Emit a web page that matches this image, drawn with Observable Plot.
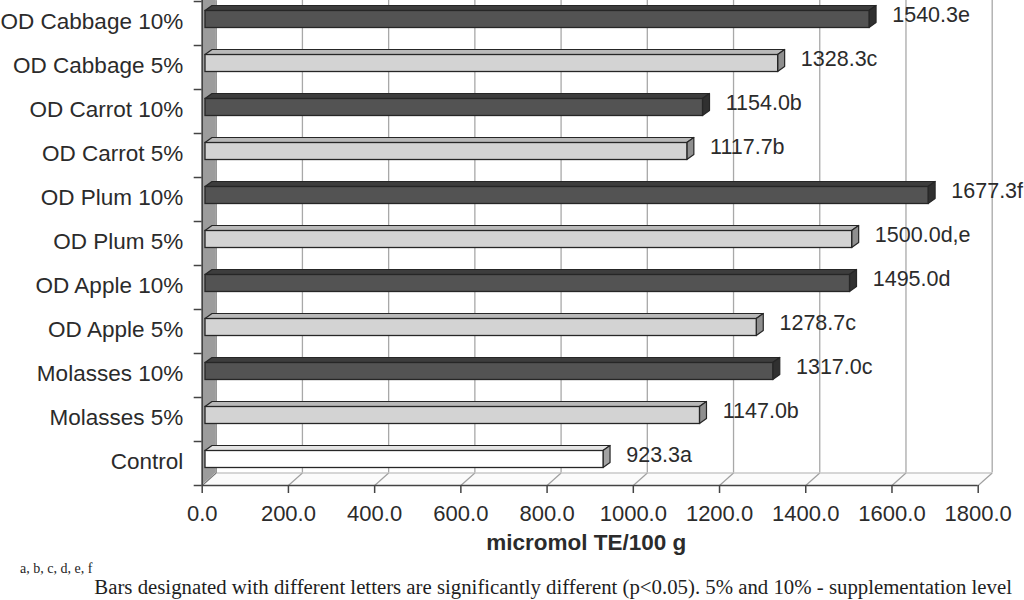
<!DOCTYPE html>
<html><head><meta charset="utf-8">
<script src="https://cdn.jsdelivr.net/npm/d3@7"></script>
<script src="https://cdn.jsdelivr.net/npm/@observablehq/plot@0.6"></script>
<style>
html,body{margin:0;padding:0;overflow:hidden;background:#fff;width:1024px;height:600px;}
#chart{position:absolute;left:0;top:0;}
.note{position:absolute;left:20px;font-family:"Liberation Serif","Times New Roman",serif;font-size:20.8px;line-height:24px;color:#1e1e1e;white-space:nowrap;}
</style></head><body>
<div id="chart"></div>
<div class="note" style="top:575px"><span style="font-size:14px;position:relative;top:-21px;margin-right:2px">a, b, c, d, e, f</span>Bars designated with different letters are significantly different (p&lt;0.05). 5% and 10% - supplementation level</div>
<div class="note" style="top:599px">at 5 g/100 g flour and 10 g/100 g flour, respectively.</div>
<script>
const categories = ["Control","Molasses 5%","Molasses 10%","OD Apple 5%","OD Apple 10%","OD Plum 5%","OD Plum 10%","OD Carrot 5%","OD Carrot 10%","OD Cabbage 5%","OD Cabbage 10%"];
const values = [923.3,1147.0,1317.0,1278.7,1495.0,1500.0,1677.3,1117.7,1154.0,1328.3,1540.3];
const letters = ["a","b","c","c","d","d,e","f","b","b","c","e"];
const levels = ["control","5%","10%","5%","10%","5%","10%","5%","10%","5%","10%"];
const xTicks = [0,200,400,600,800,1000,1200,1400,1600,1800];

// geometry helpers (pixel -> data units)
const UX = 1800 / 776;   // x units per pixel
const UY = 1 / 44;       // y units per pixel
const F = -0.591, TOP = 10.432;        // floor / top of view (y units)
const WDX = 14 * UX, WDY = 12.5 * UY;  // wall depth
const BDX = 7 * UX, BDY = 5 * UY;      // bar depth
const H = 17 * UY;                     // bar front height
const BOFF = 3.3;                      // bar px offset into depth

const rows = categories.map((c, i) => ({cat: c, i, value: values[i], label: values[i].toFixed(1) + letters[i], level: levels[i]}));

const shades = {
  "control": {front: "#ffffff", top: "#e4e4e4", cap: "#a2a2a2"},
  "5%": {front: "#d3d3d3", top: "#b9b9b9", cap: "#8f8f8f"},
  "10%": {front: "#535353", top: "#3d3d3d", cap: "#303030"}
};

const topFaces = rows.flatMap(r => [
  {cat: r.cat, level: r.level, y: r.i + H / 2, x1: 0, x2: r.value},
  {cat: r.cat, level: r.level, y: r.i + H / 2 + BDY, x1: BDX, x2: r.value + BDX}
]);
const caps = rows.flatMap(r => [
  {cat: r.cat, level: r.level, x: r.value, y1: r.i - H / 2, y2: r.i + H / 2},
  {cat: r.cat, level: r.level, x: r.value + BDX, y1: r.i - H / 2 + BDY, y2: r.i + H / 2 + BDY}
]);

const barStroke = "#262626";
const barMarks = [];
for (const lv of Object.keys(shades)) {
  const s = shades[lv];
  barMarks.push(
    Plot.areaX(topFaces.filter(d => d.level === lv), {y: "y", x1: "x1", x2: "x2", z: "cat", fill: s.top, stroke: barStroke, strokeWidth: 1.2, dx: BOFF}),
    Plot.areaY(caps.filter(d => d.level === lv), {x: "x", y1: "y1", y2: "y2", z: "cat", fill: s.cap, stroke: barStroke, strokeWidth: 1.2, dx: BOFF}),
    Plot.rect(rows.filter(d => d.level === lv), {x1: 0, x2: "value", y1: d => d.i - H / 2, y2: d => d.i + H / 2, fill: s.front, stroke: barStroke, strokeWidth: 1.3, dx: BOFF})
  );
}

const chart = Plot.plot({
  width: 1024,
  height: 556,
  marginLeft: 201.7,
  marginRight: 46.3,
  marginTop: 0,
  marginBottom: 71,
  style: {fontFamily: "'Liberation Sans', Arial, sans-serif", color: "#2b2b2b", background: "#fff"},
  x: {domain: [0, 1800]},
  y: {domain: [F, TOP]},
  marks: [
    // floor
    Plot.areaX([{y: F, x1: 0, x2: 1800}, {y: F + WDY, x1: WDX, x2: 1800 + WDX}], {y: "y", x1: "x1", x2: "x2", fill: "#fbfbfb"}),
    // back wall gridlines
    Plot.ruleX(xTicks, {x: d => d + WDX, y1: F + WDY, y2: TOP, stroke: "#a8a8a8", strokeWidth: 1.3}),
    // floor diagonals
    Plot.link(xTicks, {x1: d => d, y1: F, x2: d => d + WDX, y2: F + WDY, stroke: "#a0a0a0", strokeWidth: 1.2}),
    Plot.ruleY([F + WDY], {x1: WDX, x2: 1800 + WDX, stroke: "#b0b0b0", strokeWidth: 1.2}),
    // left wall
    Plot.areaY([{x: 0, y1: F, y2: TOP}, {x: WDX, y1: F + WDY, y2: TOP}], {x: "x", y1: "y1", y2: "y2", fill: "#9c9c9c"}),
    Plot.link([0], {x1: WDX, y1: F + WDY, x2: WDX, y2: TOP, stroke: "#8a8a8a", strokeWidth: 1}),
    Plot.link([0], {x1: 0, y1: F, x2: WDX, y2: F + WDY, stroke: "#777", strokeWidth: 1}),
    Plot.ruleX([0], {y1: F, y2: TOP, stroke: "#444", strokeWidth: 1.6}),
    // front floor line
    Plot.ruleY([F], {x1: 0, x2: 1800, stroke: "#444", strokeWidth: 1.6}),
    // bars
    ...barMarks,
    // value labels
    Plot.text(rows, {x: "value", y: d => d.i + 4 * UY, text: "label", textAnchor: "start", dx: 26, fontSize: 21.5, fill: "#2b2b2b"}),
    // axes
    Plot.axisX({ticks: xTicks, tickFormat: d3.format(".1f"), tickSize: 8, tickPadding: 12, fontSize: 22, label: null, strokeWidth: 1.5, stroke: "#444"}),
    Plot.axisY({ticks: d3.range(12).map(k => F + k), tickSize: 8, tickFormat: () => "", label: null, strokeWidth: 1.5, stroke: "#444"}),
    Plot.axisY({ticks: d3.range(categories.length), tickSize: 0, tickPadding: 19, tickFormat: i => categories[i], fontSize: 22.5, label: null, dy: 2}),
    // axis title
    Plot.text(["micromol TE/100 g"], {text: d => d, frameAnchor: "bottom", dy: 57, dx: -4, lineAnchor: "middle", fontWeight: "bold", fontSize: 22.5, fill: "#2b2b2b"})
  ]
});
document.getElementById("chart").appendChild(chart);
</script>
</body></html>
